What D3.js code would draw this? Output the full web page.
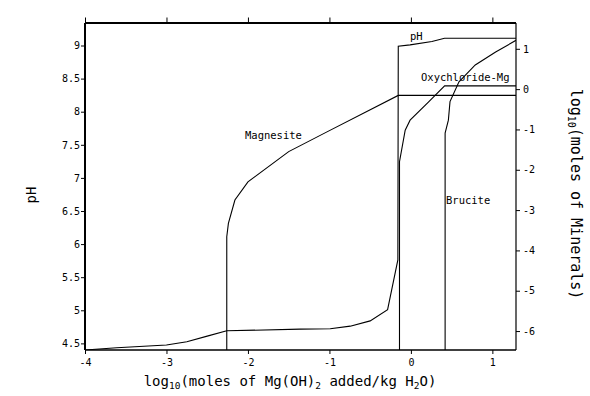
<!DOCTYPE html>
<html>
<head>
<meta charset="utf-8">
<script src="https://cdn.jsdelivr.net/npm/d3@7"></script>
<style>
  body { margin: 0; background: #fff; }
  svg text { font-family: "DejaVu Sans Mono", monospace; fill: #000; }
</style>
</head>
<body>
<svg id="chart" width="590" height="396"></svg>
<script>
// ---- data ----
const xTicks = [-4, -3, -2, -1, 0, 1];
const phTicks = [4.5, 5, 5.5, 6, 6.5, 7, 7.5, 8, 8.5, 9];
const logTicks = [-6, -5, -4, -3, -2, -1, 0, 1];

const phX = [-4, -3.61, -3.0, -2.75, -2.5, -2.26, -1.36, -0.99, -0.745, -0.50, -0.286, -0.16, -0.155, -0.01, 0.258, 0.413, 1.29];
const phY = [4.4, 4.435, 4.475, 4.525, 4.61, 4.69, 4.715, 4.72, 4.76, 4.84, 5.01, 5.76, 8.99, 9.01, 9.06, 9.11, 9.11];

const magnesiteX = [-2.26, -2.26, -2.24, -2.16, -2.0, -1.5, -1.03, -0.155, 1.29];
const magnesiteY = [-6.47, -3.66, -3.33, -2.75, -2.30, -1.55, -1.06, -0.156, -0.156];

const oxyX = [-0.14, -0.14, -0.07, -0.01, 0.218, 0.414, 1.29];
const oxyY = [-6.47, -1.80, -1.02, -0.77, -0.315, 0.08, 0.08];

const bruciteX = [0.42, 0.42, 0.46, 0.48, 0.59, 0.79, 1.04, 1.29];
const bruciteY = [-6.47, -1.09, -0.77, -0.31, 0.18, 0.60, 0.92, 1.21];

// ---- layout ----
const L = 85, R = 516, T = 23, B = 350;
const svg = d3.select("#chart");

const x = d3.scaleLinear().domain([-4, 1.29]).range([L, R]);
const yPH = d3.scaleLinear().domain([4.4, 9.34]).range([B, T]);
const yLog = d3.scaleLinear().domain([-6.47, 1.64]).range([B, T]);

const fmt = d => String(d);

// minor tick helpers
function minor(domain, step) {
  const out = [];
  const s = Math.ceil(domain[0] / step - 1e-9), e = Math.floor(domain[1] / step + 1e-9);
  for (let i = s; i <= e; i++) out.push(+(i * step).toFixed(6));
  return out;
}

// left axis (pH)
const gL = svg.append("g").attr("transform", `translate(${L},0)`);
gL.call(d3.axisLeft(yPH).tickValues(minor(yPH.domain(), 0.1)).tickSize(2).tickFormat(""));
gL.call(d3.axisLeft(yPH).tickValues(phTicks).tickSize(4).tickFormat(fmt).tickPadding(1));
gL.selectAll(".domain").remove();

// bottom axis
const gB = svg.append("g").attr("transform", `translate(0,${B})`);
gB.call(d3.axisBottom(x).tickValues(minor(x.domain(), 0.2)).tickSize(2.5).tickFormat(""));
gB.call(d3.axisBottom(x).tickValues(xTicks).tickSize(4).tickFormat(fmt).tickPadding(5));
gB.selectAll(".domain").remove();

// top axis
const gT = svg.append("g").attr("transform", `translate(0,${T})`);
gT.call(d3.axisTop(x).tickValues(minor(x.domain(), 0.2)).tickSize(3).tickFormat(""));
gT.call(d3.axisTop(x).tickValues(xTicks).tickSize(5.5).tickFormat(""));
gT.selectAll(".domain").remove();

// right axis
const gR = svg.append("g").attr("transform", `translate(${R},0)`);
gR.call(d3.axisRight(yLog).tickValues(minor(yLog.domain(), 0.2)).tickSize(2).tickFormat(""));
gR.call(d3.axisRight(yLog).tickValues(logTicks).tickSize(4).tickFormat(fmt).tickPadding(3));
gR.selectAll(".domain").remove();

svg.selectAll(".tick text").attr("font-size", 10).attr("font-family", "DejaVu Sans Mono");
svg.selectAll(".tick line").attr("stroke", "#000");

// frame
svg.append("line").attr("x1", L).attr("x2", R).attr("y1", T).attr("y2", T).attr("stroke", "#000").attr("stroke-width", 2);
svg.append("line").attr("x1", L).attr("x2", L).attr("y1", T).attr("y2", B).attr("stroke", "#000").attr("stroke-width", 2);
svg.append("line").attr("x1", L).attr("x2", R).attr("y1", B).attr("y2", B).attr("stroke", "#000").attr("stroke-width", 1.5);
svg.append("line").attr("x1", R).attr("x2", R).attr("y1", T).attr("y2", B).attr("stroke", "#000").attr("stroke-width", 1.2);

// series
const clip = svg.append("clipPath").attr("id", "clip").append("rect")
  .attr("x", L).attr("y", T).attr("width", R - L).attr("height", B - T);

function drawSeries(xs, ys, yScale) {
  const pts = xs.map((v, i) => [v, ys[i]]);
  svg.append("path")
    .datum(pts)
    .attr("clip-path", "url(#clip)")
    .attr("fill", "none")
    .attr("stroke", "#000")
    .attr("stroke-width", 1.1)
    .attr("d", d3.line().x(d => x(d[0])).y(d => yScale(d[1])));
}
drawSeries(phX, phY, yPH);
drawSeries(magnesiteX, magnesiteY, yLog);
drawSeries(oxyX, oxyY, yLog);
drawSeries(bruciteX, bruciteY, yLog);

// curve labels
const labels = [
  { t: "pH", x: 410, y: 40 },
  { t: "Oxychloride-Mg", x: 421, y: 81 },
  { t: "Magnesite", x: 245, y: 139 },
  { t: "Brucite", x: 446, y: 204 }
];
svg.selectAll("text.lbl").data(labels).enter().append("text")
  .attr("class", "lbl").attr("x", d => d.x).attr("y", d => d.y)
  .attr("font-size", 10.5).text(d => d.t);

// axis titles
svg.append("text")
  .attr("transform", "translate(36,195) rotate(-90)")
  .attr("text-anchor", "middle").attr("font-size", 14).text("pH");

const bt = svg.append("text").attr("x", 290).attr("y", 386)
  .attr("text-anchor", "middle").attr("font-size", 14);
bt.append("tspan").text("log");
bt.append("tspan").attr("font-size", 9.5).attr("dy", 3).text("10");
bt.append("tspan").attr("dy", -3).text("(moles of Mg(OH)");
bt.append("tspan").attr("font-size", 9.5).attr("dy", 3).text("2");
bt.append("tspan").attr("dy", -3).text(" added/kg H");
bt.append("tspan").attr("font-size", 9.5).attr("dy", 3).text("2");
bt.append("tspan").attr("dy", -3).text("O)");

const rt = svg.append("text")
  .attr("transform", "translate(571,194) rotate(90)")
  .attr("text-anchor", "middle").attr("font-size", 15);
rt.append("tspan").text("log");
rt.append("tspan").attr("font-size", 10).attr("dy", 3).text("10");
rt.append("tspan").attr("dy", -3).text("(moles of Minerals)");
</script>
</body>
</html>
